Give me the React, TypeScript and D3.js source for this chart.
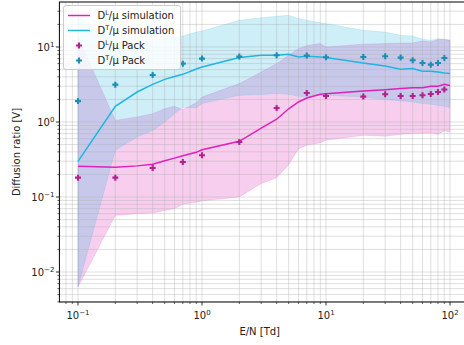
import * as d3 from 'd3';

// E/N grid of the simulation curves [Td]
const simE = [0.1, 0.2, 0.3, 0.4, 0.5, 0.6, 0.7, 0.9, 1, 2, 3, 4, 5, 6, 7, 9, 10, 20, 30, 40, 50, 60, 70, 80, 90, 100];

// D_L / mu simulation: mean, lower and upper band
const dlSim = [0.257, 0.249, 0.26, 0.273, 0.305, 0.33, 0.354, 0.394, 0.426, 0.553, 0.83, 1.09, 1.5, 1.85, 2.09, 2.35, 2.38, 2.59, 2.7, 2.79, 2.87, 2.87, 2.99, 2.99, 3.18, 3.06];
const dlLow = [0.0063, 0.057, 0.06, 0.061, 0.066, 0.07, 0.08, 0.085, 0.089, 0.1, 0.151, 0.18, 0.27, 0.44, 0.49, 0.53, 0.57, 0.665, 0.645, 0.685, 0.7, 0.71, 0.72, 0.685, 0.76, 0.735];
const dlHigh = [13.6, 1.05, 1.17, 1.29, 1.5, 1.62, 1.46, 1.8, 2.15, 3.25, 4.64, 6.0, 7.75, 9.5, 10.5, 11.1, 10.0, 10.9, 11.1, 11.3, 11.3, 12.0, 11.7, 12.6, 12.6, 12.3];

// D_T / mu simulation: mean, lower and upper band
const dtSim = [0.299, 1.62, 2.51, 3.18, 3.7, 4.05, 4.32, 5.1, 5.4, 7.22, 7.75, 7.75, 8.0, 7.36, 7.52, 7.36, 7.22, 6.12, 5.58, 5.04, 5.15, 4.74, 4.74, 4.64, 4.5, 4.42];
const dtLow = [0.0063, 0.42, 0.63, 0.77, 1.0, 1.29, 1.56, 1.55, 1.76, 2.27, 2.33, 2.39, 2.34, 2.2, 2.15, 2.27, 2.27, 2.15, 1.99, 1.91, 1.85, 1.76, 1.72, 1.67, 1.62, 1.56];
const dtHigh = [25, 12, 11.5, 12, 13, 13.5, 14, 15.8, 16.3, 22.7, 24.5, 25.7, 26.5, 24, 22.7, 21, 20.5, 16.7, 15.8, 14.3, 14.0, 12.7, 12.3, 12.9, 12.7, 12.3];

// Pack reference points
const packE = [0.1, 0.2, 0.4, 0.7, 1, 2, 4, 7, 10, 20, 30, 40, 50, 60, 70, 80, 90];
const dlPack = [0.181, 0.181, 0.244, 0.293, 0.36, 0.541, 1.54, 2.44, 2.22, 2.18, 2.34, 2.22, 2.22, 2.27, 2.36, 2.51, 2.71];
const dtPack = [1.9, 3.15, 4.24, 6.0, 7.0, 7.45, 7.75, 7.68, 7.3, 7.36, 7.52, 7.22, 6.65, 6.12, 5.82, 6.12, 7.13];

const xTickLabels = ['-1', '0', '1', '2'];
const yTickLabels = ['-2', '-1', '0', '1'];

const W = 464;
const H = 345;
const left = 59.4;
const right = 468.6;
const top = 2;
const bottom = 302;

const pinkLine = '#e021b8';
const pinkDot = '#b3218d';
const cyanLine = '#22b4e0';
const cyanDot = '#1f8db3';

export default function App() {
  const x = d3.scaleLog().domain([Math.pow(10, -1.15), Math.pow(10, 2.15)]).range([left, right]);
  const y = d3.scaleLog().domain([Math.pow(10, -2.4), Math.pow(10, 1.6)]).range([bottom, top]);

  const minorX: number[] = [];
  for (let d = -2; d <= 2; d++) for (let k = 1; k <= 9; k++) {
    const v = k * Math.pow(10, d);
    const px = x(v);
    if (px >= left && px <= W) minorX.push(v);
  }
  const minorY: number[] = [];
  for (let d = -3; d <= 1; d++) for (let k = 1; k <= 9; k++) {
    const v = k * Math.pow(10, d);
    const py = y(v);
    if (py >= top && py <= bottom) minorY.push(v);
  }

  const idx = simE.map((_, i) => i);
  const band = (lo: number[], hi: number[]) =>
    d3.area<number>().x((i) => x(simE[i])).y0((i) => y(lo[i])).y1((i) => y(hi[i]))(idx) ?? '';
  const line = (vals: number[]) =>
    d3.line<number>().x((i) => x(simE[i])).y((i) => y(vals[i]))(idx) ?? '';

  const plus = (cx: number, cy: number) => {
    const s = 3, t = 1.05;
    return `M${cx - t},${cy - s}H${cx + t}V${cy - t}H${cx + s}V${cy + t}H${cx + t}V${cy + s}H${cx - t}V${cy + t}H${cx - s}V${cy - t}H${cx - t}Z`;
  };

  const font = 'DejaVu Sans, sans-serif';
  const legendRows = [
    { kind: 'line', color: pinkLine, sup: 'L', text: '/μ simulation' },
    { kind: 'line', color: cyanLine, sup: 'T', text: '/μ simulation' },
    { kind: 'mark', color: pinkDot, sup: 'L', text: '/μ Pack' },
    { kind: 'mark', color: cyanDot, sup: 'T', text: '/μ Pack' },
  ];

  return (
    <svg width={W} height={H} style={{ position: 'absolute', left: 0, top: 0, background: '#fff' }} fontFamily={font}>
      <defs>
        <clipPath id="plot">
          <rect x={left} y={top} width={right - left} height={bottom - top} />
        </clipPath>
      </defs>
      <g clipPath="url(#plot)">
        <path d={band(dlLow, dlHigh)} fill={pinkLine} fillOpacity={0.22} stroke={pinkLine} strokeOpacity={0.15} />
        <path d={band(dtLow, dtHigh)} fill={cyanLine} fillOpacity={0.22} stroke={cyanLine} strokeOpacity={0.15} />
        {minorX.map((v) => (
          <line key={'gx' + v} x1={x(v)} x2={x(v)} y1={top} y2={bottom} stroke="#b0b0b0" strokeOpacity={0.4} />
        ))}
        {minorY.map((v) => (
          <line key={'gy' + v} x1={left} x2={right} y1={y(v)} y2={y(v)} stroke="#b0b0b0" strokeOpacity={0.4} />
        ))}
        <path d={line(dlSim)} fill="none" stroke={pinkLine} strokeWidth={1.5} />
        <path d={line(dtSim)} fill="none" stroke={cyanLine} strokeWidth={1.5} />
        {packE.map((e, i) => (
          <path key={'pl' + i} d={plus(x(e), y(dlPack[i]))} fill={pinkDot} />
        ))}
        {packE.map((e, i) => (
          <path key={'pt' + i} d={plus(x(e), y(dtPack[i]))} fill={cyanDot} />
        ))}
      </g>
      <rect x={left} y={top} width={right - left} height={bottom - top} fill="none" stroke="#000" strokeWidth={1} />
      {/* x ticks */}
      {minorX.map((v) => {
        const major = Math.abs(Math.log10(v) - Math.round(Math.log10(v))) < 1e-9;
        return <line key={'tx' + v} x1={x(v)} x2={x(v)} y1={bottom} y2={bottom + (major ? 3.5 : 2)} stroke="#000" strokeWidth={major ? 0.8 : 0.6} />;
      })}
      {minorY.map((v) => {
        const major = Math.abs(Math.log10(v) - Math.round(Math.log10(v))) < 1e-9;
        return <line key={'ty' + v} x1={left} x2={left - (major ? 3.5 : 2)} y1={y(v)} y2={y(v)} stroke="#000" strokeWidth={major ? 0.8 : 0.6} />;
      })}
      {xTickLabels.map((p) => (
        <text key={'lx' + p} x={x(Math.pow(10, +p))} y={bottom + 17} textAnchor="middle" fontSize={10} fill="#222">
          10<tspan dy={-4} fontSize={7}>{p.replace('-', '−')}</tspan>
        </text>
      ))}
      {yTickLabels.map((p) => (
        <text key={'ly' + p} x={left - 5} y={y(Math.pow(10, +p)) + 4} textAnchor="end" fontSize={10} fill="#222">
          10<tspan dy={-4} fontSize={7}>{p.replace('-', '−')}</tspan>
        </text>
      ))}
      <text x={(left + 450) / 2 + 5} y={335} textAnchor="middle" fontSize={10} fill="#222">E/N [Td]</text>
      <text transform={`translate(20,${(top + bottom) / 2}) rotate(-90)`} textAnchor="middle" fontSize={10} fill="#222">Diffusion ratio [V]</text>
      {/* legend */}
      <rect x={63.5} y={5.5} width={117} height={64} rx={2.5} fill="#fff" fillOpacity={0.8} stroke="#cccccc" />
      {legendRows.map((r, i) => {
        const cy = 15.5 + i * 15;
        return (
          <g key={'lg' + i}>
            {r.kind === 'line' ? (
              <line x1={68} x2={90} y1={cy} y2={cy} stroke={r.color} strokeWidth={1.5} />
            ) : (
              <path d={plus(79, cy)} fill={r.color} />
            )}
            <text x={97.5} y={cy + 3.6} fontSize={10} fill="#222">
              D<tspan dy={-4} fontSize={6.5}>{r.sup}</tspan><tspan dy={4}>{r.text}</tspan>
            </text>
          </g>
        );
      })}
    </svg>
  );
}
